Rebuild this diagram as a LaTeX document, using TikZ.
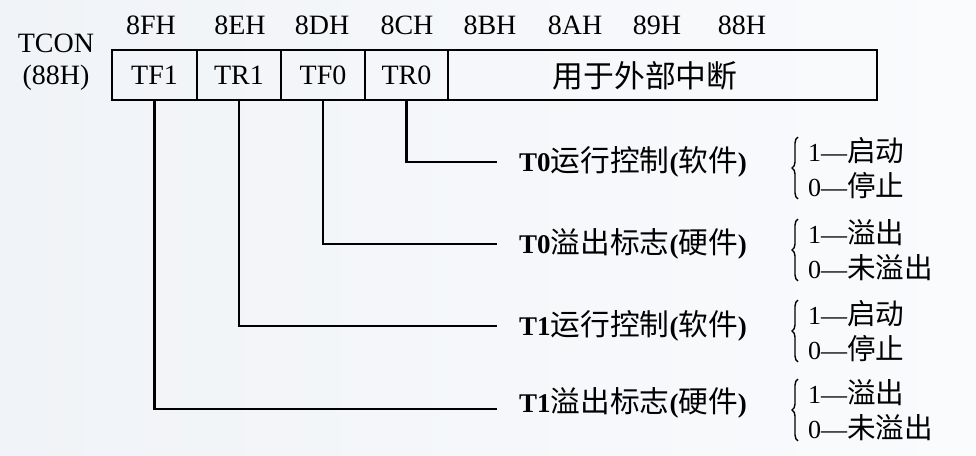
\documentclass[tikz,border=0pt]{standalone}
\usepackage{fontspec}
\setmainfont{Liberation Serif}
\newfontfamily\cjk[Scale=1.1]{Noto Sans CJK SC}
\newcommand{\zh}[1]{{\cjk #1}}
\usetikzlibrary{positioning,decorations.pathreplacing}
\definecolor{bgleft}{RGB}{240,243,247}
\definecolor{bgright}{RGB}{250,251,253}
\tikzset{
  bit/.style={
    draw,
    line width=2.2pt,
    minimum height=50pt,
    inner sep=0pt,
    font=\fontsize{28}{30}\selectfont
  },
  addr/.style={
    inner sep=0pt,
    font=\fontsize{28}{30}\selectfont
  },
  wire/.style={
    line width=2.2pt
  },
  flag/.style={
    anchor=west,
    inner sep=0pt,
    font=\fontsize{27}{30}\selectfont
  },
  choice/.style={
    anchor=west,
    align=left,
    inner sep=0pt,
    font=\fontsize{26}{35}\selectfont
  },
  curly/.style={
    decorate,
    decoration={brace, amplitude=6pt},
    line width=1.4pt
  }
}

\begin{document}
\begin{tikzpicture}[x=1pt,y=-1pt]
        \path[use as bounding box, left color=bgleft, right color=bgright] (0,0) rectangle (976,455);
        % register name
        \node[addr] (tcon) at (56,43) {TCON};
        \node[addr] (tconaddr) at (56,78) {(88H)};
        % bit addresses
        \node[addr] (a7) at (151,25) {8FH};
        \node[addr] (a6) at (240,25) {8EH};
        \node[addr] (a5) at (322,25) {8DH};
        \node[addr] (a4) at (407,25) {8CH};
        \node[addr] (a3) at (490,25) {8BH};
        \node[addr] (a2) at (575,25) {8AH};
        \node[addr] (a1) at (657,25) {89H};
        \node[addr] (a0) at (742,25) {88H};
        % register cells
        \node[bit, minimum width=85pt] (tf1) at (154.5,75) {TF1};
        \node[bit, minimum width=84pt] (tr1) at (239,75) {TR1};
        \node[bit, minimum width=84pt] (tf0) at (323,75) {TF0};
        \node[bit, minimum width=83pt] (tr0) at (406.5,75) {TR0};
        \node[bit, minimum width=429pt] (ext) at (662.5,75) {};
        \node[addr] (extname) at (645,76) {\zh{用于外部中断}};
        % line ends
        \coordinate (e1) at (497,162);
        \coordinate (e2) at (497,244);
        \coordinate (e3) at (497,326);
        \coordinate (e4) at (497,409);
        \draw[wire] (tr0.south) |- (e1);
        \draw[wire] (tf0.south) |- (e2);
        \draw[wire] (tr1.south) |- (e3);
        \draw[wire] (tf1.south) |- (e4);
        % meanings
        \node[flag] (l1) at (519,162) {\textbf{T0}\zh{运行控制}\textbf{(}\zh{软件}\textbf{)}};
        \node[flag] (l2) at (519,244) {\textbf{T0}\zh{溢出标志}\textbf{(}\zh{硬件}\textbf{)}};
        \node[flag] (l3) at (519,326) {\textbf{T1}\zh{运行控制}\textbf{(}\zh{软件}\textbf{)}};
        \node[flag] (l4) at (519,403) {\textbf{T1}\zh{溢出标志}\textbf{(}\zh{硬件}\textbf{)}};
        \node[choice] (o1) at (808,168) {1—\zh{启动}\\0—\zh{停止}};
        \node[choice] (o2) at (808,250) {1—\zh{溢出}\\0—\zh{未溢出}};
        \node[choice] (o3) at (808,331) {1—\zh{启动}\\0—\zh{停止}};
        \node[choice] (o4) at (808,410) {1—\zh{溢出}\\0—\zh{未溢出}};
        \draw[curly] ([xshift=-10pt]o1.south west) -- ([xshift=-10pt]o1.north west);
        \draw[curly] ([xshift=-10pt]o2.south west) -- ([xshift=-10pt]o2.north west);
        \draw[curly] ([xshift=-10pt]o3.south west) -- ([xshift=-10pt]o3.north west);
        \draw[curly] ([xshift=-10pt]o4.south west) -- ([xshift=-10pt]o4.north west);
    \end{tikzpicture}
\end{document}
